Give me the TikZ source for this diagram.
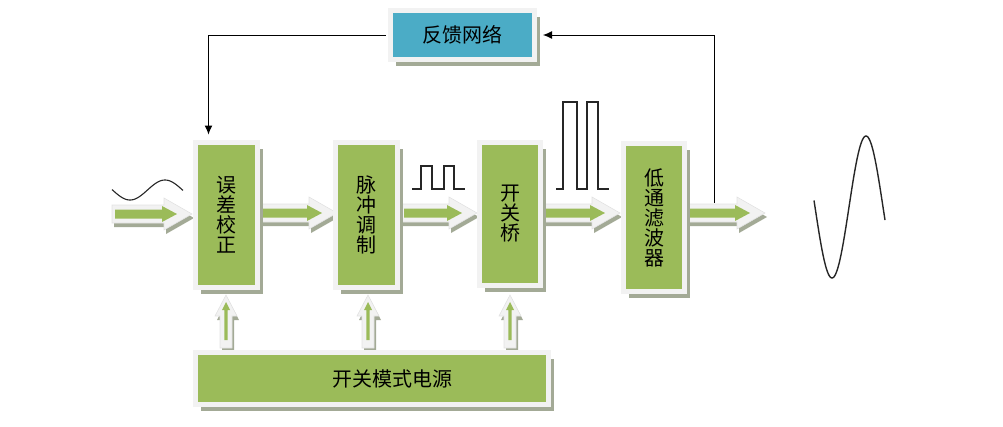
\documentclass[tikz,border=0pt]{standalone}
\usepackage{fontspec}
\newfontfamily\cjk{Noto Sans CJK SC}
\usetikzlibrary{calc,shadows,arrows.meta}
\definecolor{grn}{HTML}{9BBB59}
\definecolor{blu}{HTML}{4BACC6}
\definecolor{frm}{HTML}{F2F2F2}
\definecolor{frmedge}{HTML}{E2E2E2}
\definecolor{shd}{HTML}{A3AA96}
\tikzset{
  blk/.style={fill=grn, draw=frm, line width=5pt,
    drop shadow={shadow xshift=5pt, shadow yshift=-6pt, fill=shd, opacity=1},
    font=\cjk\fontsize{20}{20}\selectfont, align=center, inner sep=0pt, text=black},
  arrfrm/.style={fill=frm, draw=frmedge, line width=0.6pt,
    drop shadow={shadow xshift=2pt, shadow yshift=-4pt, fill=shd, opacity=1}},
  arrgrn/.style={fill=grn},
  fbline/.style={draw=black, line width=1pt, -{Latex[length=9pt,width=8pt]}},
  wave/.style={draw=black!85, line width=1.1pt, line join=miter}
}
% horizontal fat arrow: #1 start, #2 tip
\newcommand\hfat[2]{%
  \path[arrfrm] let \p1=(#1), \p2=(#2) in
    (\x1,\y1+9pt) -- (\x2-28pt,\y1+9pt) -- (\x2-28pt,\y1+16pt) -- (\x2,\y1)
    -- (\x2-28pt,\y1-16pt) -- (\x2-28pt,\y1-9pt) -- (\x1,\y1-9pt) -- cycle;
  \path[arrgrn] let \p1=(#1), \p2=(#2) in
    (\x1+3pt,\y1+4.5pt) -- (\x2-30pt,\y1+4.5pt) -- (\x2-30pt,\y1+8pt) -- (\x2-15pt,\y1)
    -- (\x2-30pt,\y1-8pt) -- (\x2-30pt,\y1-4.5pt) -- (\x1+3pt,\y1-4.5pt) -- cycle;
}
% vertical fat arrow (upwards): #1 base, #2 tip
\newcommand\vfat[2]{%
  \path[arrfrm] let \p1=(#1), \p2=(#2) in
    (\x1-6pt,\y1) -- (\x1-6pt,\y2-21pt) -- (\x1-11pt,\y2-21pt) -- (\x1,\y2)
    -- (\x1+11pt,\y2-21pt) -- (\x1+6pt,\y2-21pt) -- (\x1+6pt,\y1) -- cycle;
  \path[arrgrn] let \p1=(#1), \p2=(#2) in
    (\x1-1.6pt,\y1+8pt) -- (\x1-1.6pt,\y2-15pt) -- (\x1-4pt,\y2-15pt) -- (\x1,\y2-7pt)
    -- (\x1+4pt,\y2-15pt) -- (\x1+1.6pt,\y2-15pt) -- (\x1+1.6pt,\y1+8pt) -- cycle;
}
\begin{document}
\begin{tikzpicture}[x=1pt,y=-1pt]
\useasboundingbox (0,0) rectangle (1003,426);

% arrow coordinates
\coordinate (in0) at (112,214);
\coordinate (in1) at (192,214);
\coordinate (a2s) at (260,213);
\coordinate (a2t) at (337,213);
\coordinate (a3s) at (401,213);
\coordinate (a3t) at (477,213);
\coordinate (a4s) at (543,213);
\coordinate (a4t) at (620,213);
\coordinate (a5s) at (685,213);
\coordinate (a5t) at (765,213);
\coordinate (v1b) at (226,348);
\coordinate (v1t) at (226,295);
\coordinate (v2b) at (368,348);
\coordinate (v2t) at (368,295);
\coordinate (v3b) at (510,348);
\coordinate (v3t) at (510,295);
\coordinate (tap) at (714,203);

\hfat{in0}{in1}
\hfat{a2s}{a2t}
\hfat{a3s}{a3t}
\hfat{a4s}{a4t}
\hfat{a5s}{a5t}
\vfat{v1b}{v1t}
\vfat{v2b}{v2t}
\vfat{v3b}{v3t}

% blocks
\node[blk, minimum width=62pt, minimum height=145pt] (err) at (226.5,215) {误\\差\\校\\正};
\node[blk, minimum width=62pt, minimum height=145pt] (pwm) at (366.5,215) {脉\\冲\\调\\制};
\node[blk, minimum width=61pt, minimum height=143pt] (brg) at (510,214) {开\\关\\桥};
\node[blk, minimum width=61pt, minimum height=148pt] (lpf) at (654,217.5) {低\\通\\滤\\波\\器};
\node[blk, fill=blu, minimum width=144pt, minimum height=49pt] (fb) at (462.5,35) {反馈网络};
\node[blk, minimum width=353pt, minimum height=52pt] (smps) at (372,378.5) {\hspace*{40pt}开关模式电源};

% feedback connectors
\draw[fbline] (tap) |- ($(fb.east)+(6,0)$);
\draw[fbline] ($(fb.west)+(-2.5,0)$) -| ($(err.north)+(-18,-5.5)$);

% waveforms
\draw[wave] plot[domain=112:183, samples=60, smooth] (\x, {190+10*cos((\x-130)/70*360)});
\draw[wave] (412,189) -- (421,189) -- (421,166) -- (432,166) -- (432,189) -- (444,189)
  -- (444,166) -- (454,166) -- (454,189) -- (465,189);
\draw[wave] (556,189) -- (563,189) -- (563,102) -- (577,102) -- (577,189) -- (587,189)
  -- (587,102) -- (598,102) -- (598,189) -- (609,189);
\draw[wave, line width=1.4pt] plot[domain=814:885, samples=80, smooth] (\x, {207+71*cos((\x-832)/68*360)});
\end{tikzpicture}
\end{document}
